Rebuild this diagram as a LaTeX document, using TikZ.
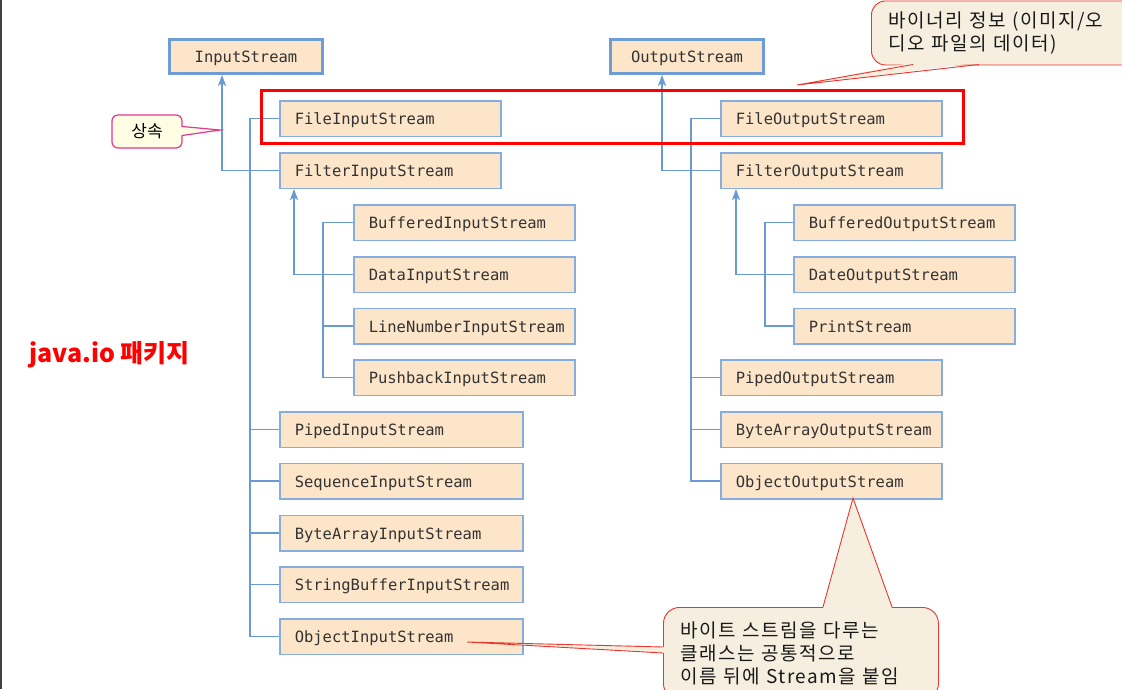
\documentclass[tikz,border=0pt]{standalone}
\usepackage{fontspec}
\setmonofont{DejaVu Sans Mono}
\newfontfamily\kor{Noto Sans CJK KR}
\newfontfamily\korwide[LetterSpace=8]{Noto Sans CJK KR}
\usetikzlibrary{arrows.meta}
\definecolor{boxfill}{HTML}{FDE5C9}
\definecolor{boxline}{HTML}{85ADDF}
\definecolor{topline}{HTML}{6E9DD6}
\definecolor{linkcolor}{HTML}{6A9AD4}
\definecolor{notefill}{HTML}{F6EFDF}
\definecolor{noteline}{HTML}{E8352E}
\definecolor{tagfill}{HTML}{FFFDE3}
\definecolor{tagline}{HTML}{E3398D}

\begin{document}
\begin{tikzpicture}[
    x=1pt, y=-1pt,
    cls/.style={rectangle, draw=boxline, line width=1.5pt, fill=boxfill, anchor=west,
      minimum height=35.5pt, inner xsep=15pt, inner ysep=0pt, text width=#1,
      text height=14pt, text depth=2pt, font=\fontsize{15.5}{18}\selectfont\ttfamily, text=black!80},
    cls/.default=191pt,
    topcls/.style={rectangle, draw=topline, line width=2.8pt, fill=boxfill,
      minimum width=153pt, minimum height=34pt, inner sep=0pt,
      text height=14pt, text depth=2pt, font=\fontsize{15.5}{18}\selectfont\ttfamily, text=black!80},
    link/.style={draw=linkcolor, line width=1.6pt},
    inherit/.style={link, -{Stealth[length=11pt, width=8pt, inset=2.5pt]}},
    note/.style={rectangle, rounded corners=14pt, draw=noteline, line width=0.9pt, fill=notefill,
      anchor=north west, inner xsep=17pt, align=left, text=black!90,
      font=\korwide\fontsize{19}{23}\selectfont},
    hilite/.style={draw=red, line width=3pt}
]
\useasboundingbox (0,0) rectangle (1122,689);
\draw[black!75, line width=1.6pt] (0.8,0) -- (0.8,689);

% top classes
\node[topcls] (is) at (246,56.5) {InputStream};
\node[topcls] (os) at (687,56.5) {OutputStream};

% input side
\node[cls] (fis) at (279,118.5) {FileInputStream};
\node[cls] (fltis) at (279,170.5) {FilterInputStream};
\node[cls] (bis) at (353,222.5) {BufferedInputStream};
\node[cls] (dis) at (353,274.5) {DataInputStream};
\node[cls] (lnis) at (353,326) {LineNumberInputStream};
\node[cls] (pbis) at (353,377.5) {PushbackInputStream};
\node[cls=213pt] (pis) at (279,429.5) {PipedInputStream};
\node[cls=213pt] (sis) at (279,481) {SequenceInputStream};
\node[cls=213pt] (bais) at (279,533) {ByteArrayInputStream};
\node[cls=213pt] (sbis) at (279,584.5) {StringBufferInputStream};
\node[cls=213pt] (ois) at (279,636.5) {ObjectInputStream};

% output side
\node[cls] (fos) at (720,118.5) {FileOutputStream};
\node[cls] (fltos) at (720,170.5) {FilterOutputStream};
\node[cls] (bos) at (793,222.5) {BufferedOutputStream};
\node[cls] (dos) at (793,274.5) {DateOutputStream};
\node[cls] (ps) at (793,326) {PrintStream};
\node[cls] (pos) at (720,377.5) {PipedOutputStream};
\node[cls] (baos) at (720,429.5) {ByteArrayOutputStream};
\node[cls] (oos) at (720,481) {ObjectOutputStream};

% trunk positions
\coordinate (iup) at (222,0);
\coordinate (itrunk) at (250,0);
\coordinate (fiup) at (294,0);
\coordinate (fitrunk) at (323,0);
\coordinate (oup) at (662,0);
\coordinate (otrunk) at (691,0);
\coordinate (foup) at (736,0);
\coordinate (fotrunk) at (765,0);

% input links
\draw[link] (fis.west) -- (fis.west -| itrunk) |- (ois.west);
\foreach \c in {pis, sis, bais, sbis}
  \draw[link] (\c.west) -- (\c.west -| itrunk);
\draw[inherit] (fltis.west) -| (is.south -| iup);
\draw[link] (bis.west) -- (bis.west -| fitrunk) |- (pbis.west);
\draw[link] (lnis.west) -- (lnis.west -| fitrunk);
\draw[inherit] (dis.west) -| (fltis.south -| fiup);

% output links
\draw[link] (fos.west) -- (fos.west -| otrunk) |- (oos.west);
\foreach \c in {pos, baos}
  \draw[link] (\c.west) -- (\c.west -| otrunk);
\draw[inherit] (fltos.west) -| (os.south -| oup);
\draw[link] (bos.west) -- (bos.west -| fotrunk) |- (ps.west);
\draw[inherit] (dos.west) -| (fltos.south -| foup);

% highlight of the file streams
\draw[hilite] (261.5,90.5) rectangle (963.5,143.5);

% package label
\node[font=\kor\bfseries\fontsize{25}{29}\selectfont, text=red, anchor=west] (pkg) at (26,355) {java.io 패키지};

% inheritance tag
\node[rectangle, rounded corners=6pt, draw=tagline, line width=1.2pt, fill=tagfill,
  minimum width=70pt, minimum height=33pt, font=\kor\fontsize{17}{20}\selectfont] (inh) at (147,131.5) {상속};
\fill[tagfill] (181,127) -- (220,130) -- (181,135) -- cycle;
\draw[tagline, line width=1.2pt] (182.2,126.5) -- (220,130) -- (182.2,135.5);

% binary note
\node[note, minimum width=266pt, minimum height=64pt, text width=235pt] (bin) at (871,0.5)
  {바이너리 정보 (이미지/오\\디오 파일의 데이터)};
\fill[notefill] (913,62.5) -- (797,85) -- (979,62.5) -- cycle;
\draw[noteline, line width=0.9pt] (913,64.5) -- (797,85) -- (979,64.5);

% byte stream note
\node[note, rounded corners=16pt, minimum width=275pt, minimum height=92pt, text width=241pt] (byte) at (663,607)
  {바이트 스트림을 다루는\\클래스는 공통적으로\\이름 뒤에 Stream을 붙임};
\fill[notefill] (823,608.5) -- (853,498) -- (892,608.5) -- cycle;
\draw[noteline, line width=0.9pt] (823,607) -- (853,498) -- (892,607);
\fill[notefill] (664.5,647) -- (467,642) -- (664.5,653) -- cycle;
\draw[noteline, line width=0.9pt] (663,647) -- (467,642) -- (663,653);

\end{tikzpicture}
\end{document}
